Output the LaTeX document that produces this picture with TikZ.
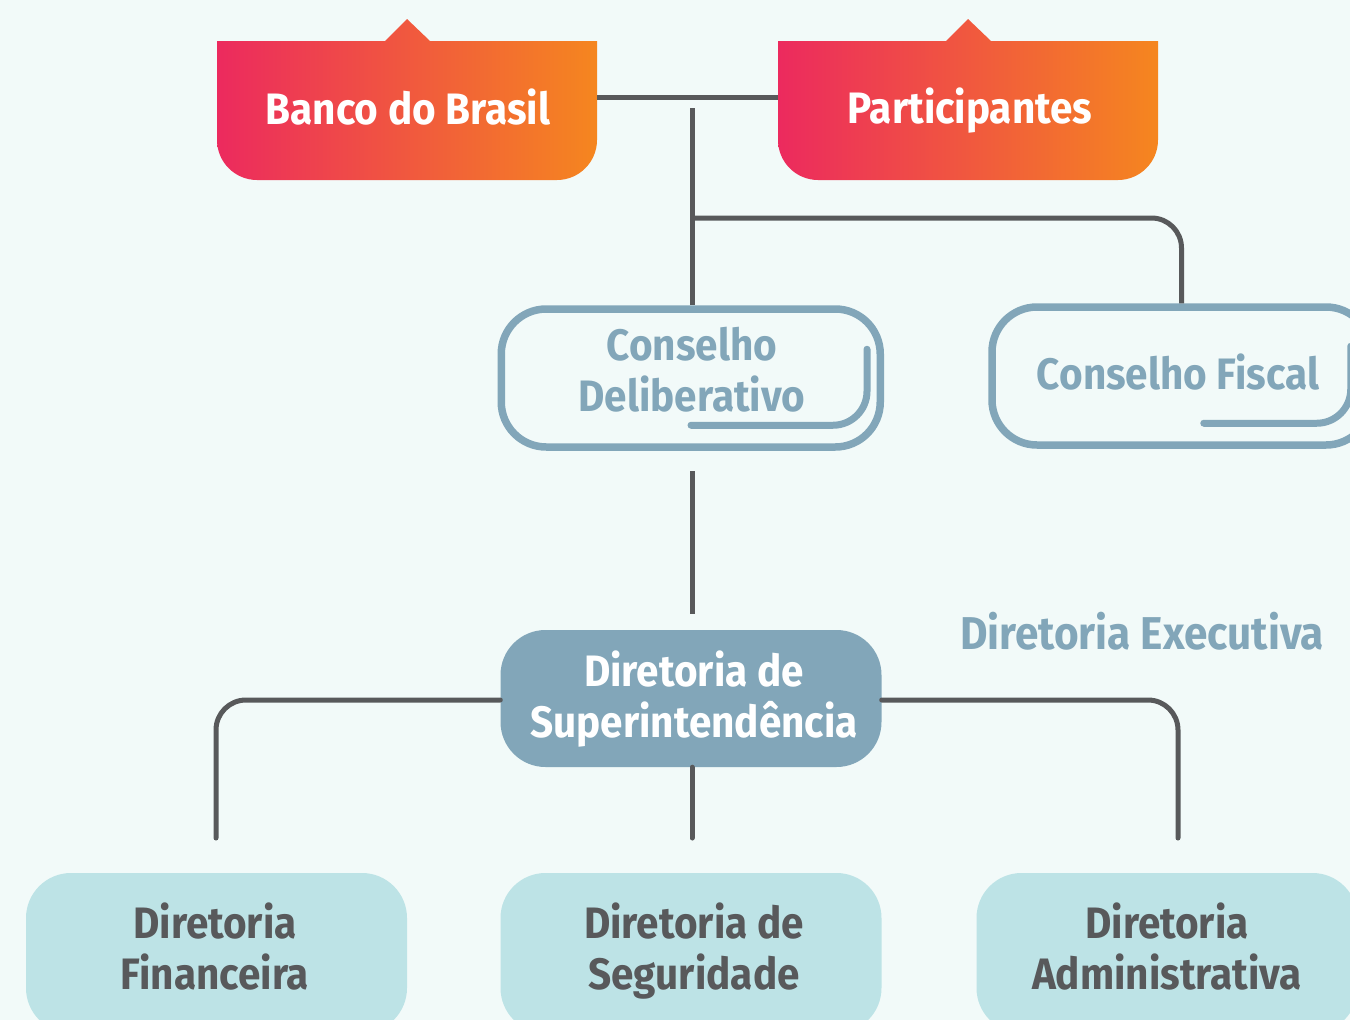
\documentclass[tikz,border=0pt]{standalone}
\usepackage{fontspec}
\setmainfont{Fira Sans}[FakeStretch=0.92]
\usetikzlibrary{calc}
\definecolor{bgc}{HTML}{F2FAF9}
\definecolor{gA}{HTML}{EC2A5E}
\definecolor{gB}{HTML}{F5861F}
\definecolor{lineg}{HTML}{58595B}
\definecolor{bluegray}{HTML}{82A6B9}
\definecolor{lightcyan}{HTML}{BDE3E6}
\definecolor{darktxt}{HTML}{58595B}
\begin{document}
\begin{tikzpicture}[x=1pt,y=-1pt,
  conn/.style={draw=lineg, line width=5pt},
  lbl/.style={font=\fontsize{44}{51}\selectfont\bfseries, align=center, inner sep=0pt},
  topbox/.style={rectangle, minimum width=380pt, minimum height=139pt, inner sep=0pt},
  ghostbox/.style={rectangle, rounded corners=45pt, draw=bluegray, line width=7.5pt, minimum width=379pt, minimum height=138pt, inner sep=0pt},
  deco/.style={draw=bluegray, line width=7pt, line cap=round, rounded corners=34pt},
  solidbox/.style={rectangle, rounded corners=45pt, fill=bluegray, minimum width=381pt, minimum height=137pt, inner sep=0pt},
  leafbox/.style={rectangle, rounded corners=45pt, fill=lightcyan, minimum width=381pt, minimum height=160pt, inner sep=0pt}
]
\useasboundingbox (0,0) rectangle (1350,1020);
\clip (0,0) rectangle (1350,1020);
\fill[bgc] (0,0) rectangle (1350,1020);

% top gradient boxes
\node[topbox] (bb) at (407,110.5) {};
\node[topbox] (pa) at (968,110.5) {};
\shade[left color=gA, right color=gB]
  (217,41) -- (385,41) -- (407,19) -- (430,41) -- (597,41) -- (597,140)
  .. controls (597,162) and (579,180) .. (557,180) -- (257,180)
  .. controls (235,180) and (217,162) .. (217,140) -- cycle;
\shade[left color=gA, right color=gB]
  (778,41) -- (946,41) -- (968,19) -- (991,41) -- (1158,41) -- (1158,140)
  .. controls (1158,162) and (1140,180) .. (1118,180) -- (818,180)
  .. controls (796,180) and (778,162) .. (778,140) -- cycle;
\node[lbl, text=white] (bbt) at (408,107) {Banco do Brasil};
\node[lbl, text=white] (pat) at (970,111) {Participantes};

% councils
\node[ghostbox] (cd) at (690.75,378) {};
\node[ghostbox] (cf) at (1181.5,376) {};
\draw[deco] ($(cd.north east)+(-17,44)$) -- ($(cd.north east)+(-17,120)$) -- ($(cd.north east)+(-193,120)$);
\draw[deco] ($(cf.north east)+(-24,43)$) -- ($(cf.north east)+(-24,120)$) -- ($(cf.north east)+(-171,120)$);
\node[lbl, text=bluegray] (cdt) at (692,370) {Conselho\\Deliberativo};
\node[lbl, text=bluegray] (cft) at (1178,372) {Conselho Fiscal};

% executive
\node[lbl, text=bluegray, font=\fontsize{46}{51}\selectfont\bfseries] (dex) at (1142,631) {Diretoria Executiva};
\node[solidbox] (ds) at (691,698.5) {};
\node[lbl, text=white] (dst) at (694,699) {Diretoria de\\Superintendência};

% leaves
\node[leafbox] (df) at (216.5,953) {};
\node[leafbox] (dg) at (691,953) {};
\node[leafbox] (da) at (1167,953) {};
\node[lbl, text=darktxt] (dft) at (215,947) {Diretoria\\Financeira};
\node[lbl, text=darktxt] (dgt) at (694,951) {Diretoria de\\Seguridade};
\node[lbl, text=darktxt] (dat) at (1167,947) {Diretoria\\Administrativa};

% connectors
\coordinate (jt) at (692,97.5);
\coordinate (jv) at (692,108);
\coordinate (jb) at (692,218);
\coordinate (cdlow) at (692,471);
\coordinate (dsup) at (692,614);
\coordinate (fend) at (216,838);
\coordinate (gend) at (692,838);
\coordinate (aend) at (1178,838);
\draw[conn] (bb.east |- jt) -- (pa.west |- jt);
\draw[conn] (jv) -- (jv |- cd.north);
\draw[conn, rounded corners=30pt] (jb) -- (jb -| cf.north) -- (cf.north);
\draw[conn] (cdlow) -- (dsup);
\draw[conn, line cap=round, rounded corners=30pt] (ds.west |- 0,700) -- (fend |- 0,700) -- (fend);
\draw[conn, line cap=round, rounded corners=30pt] (ds.east |- 0,700) -- (aend |- 0,700) -- (aend);
\draw[conn, line cap=round] (ds.south -| gend) -- (gend);
\end{tikzpicture}
\end{document}
